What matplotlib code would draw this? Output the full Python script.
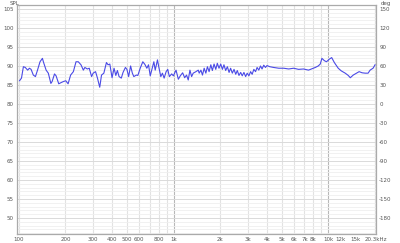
import matplotlib
matplotlib.use("Agg")
import matplotlib.pyplot as plt
from matplotlib.ticker import FixedLocator, NullFormatter

plt.rcParams["axes.unicode_minus"] = False

# Frequency response
freq = [101, 104, 107, 110, 114, 117, 120, 124, 128, 132, 137, 142, 144, 150, 155, 161, 164, 170, 174, 181,
        187, 194, 201, 208, 216, 225, 234, 242, 252, 261, 267, 277, 285, 295, 302, 313, 322, 333, 342, 354,
        368, 377, 387, 400, 412, 423, 433, 444, 459, 471, 488, 499, 512, 527, 541, 553, 574, 587, 608, 632,
        652, 671, 688, 706, 727, 745, 760, 786, 801, 826, 846, 868, 894, 916, 938, 971, 996, 1036, 1072, 1104,
        1143, 1178, 1211, 1242, 1274, 1306, 1337, 1393, 1442, 1462, 1500, 1535, 1574, 1614, 1652, 1694, 1738,
        1778, 1824, 1871, 1914, 1963, 2014, 2065, 2113, 2168, 2223, 2280, 2333, 2393, 2455, 2518, 2576, 2642,
        2710, 2773, 2844, 2917, 2985, 3062, 3141, 3214, 3296, 3381, 3459, 3548, 3639, 3724, 3819, 3917, 4009,
        4178, 4426, 4775, 5140, 5534, 5957, 6412, 6902, 7430, 7762, 8222, 8590, 8851, 9070, 9397, 9705, 10140,
        10490, 10910, 11560, 12100, 12830, 13420, 13840, 14450, 14890, 15780, 16490, 17260, 18030, 18580,
        19410, 20000]
spl = [86.1, 86.8, 89.8, 89.6, 88.9, 89.4, 89.1, 87.6, 87.2, 88.9, 91.1, 92.0, 91.1, 88.9, 88.1, 85.4, 85.9,
       87.9, 87.4, 85.3, 85.6, 85.9, 86.1, 85.3, 87.6, 88.5, 91.1, 91.1, 90.3, 88.9, 89.6, 89.2, 89.4, 87.2,
       88.1, 88.5, 86.8, 84.4, 87.6, 88.1, 90.9, 90.3, 90.5, 86.9, 89.4, 87.5, 88.8, 87.2, 86.8, 88.3, 89.6,
       89.1, 87.2, 90.0, 88.1, 87.2, 87.6, 87.5, 89.4, 91.1, 90.4, 89.4, 90.3, 87.4, 89.4, 91.1, 88.9, 91.6,
       89.8, 87.2, 88.1, 86.8, 88.5, 89.1, 87.2, 87.9, 87.4, 88.9, 86.5, 87.4, 88.2, 86.9, 87.6, 86.3, 88.9,
       87.2, 88.1, 88.5, 88.9, 88.1, 88.9, 87.6, 89.4, 88.1, 89.8, 88.5, 90.3, 88.8, 90.5, 89.1, 90.7, 89.4,
       90.5, 89.1, 90.3, 88.8, 89.8, 88.3, 89.4, 88.1, 89.1, 87.8, 88.8, 87.5, 88.3, 87.4, 88.3, 87.2, 88.1,
       87.4, 88.5, 87.8, 89.1, 88.5, 89.6, 88.9, 90.0, 89.2, 90.2, 89.6, 90.1, 89.8, 89.6, 89.4, 89.4, 89.2,
       89.4, 89.1, 89.2, 88.9, 89.2, 89.6, 90.0, 90.5, 92.0, 91.4, 91.1, 91.8, 92.2, 90.9, 89.4, 88.7, 88.1,
       87.5, 86.9, 87.6, 87.9, 88.5, 88.2, 88.1, 88.1, 88.9, 89.4, 90.3]

xticks = [100, 200, 300, 400, 500, 600, 800, 1000, 2000, 3000, 4000, 5000, 6000, 7000, 8000, 10000,
          12000, 15000, 20300]
xlabels = ["100", "200", "300", "400", "500", "600", "800", "1k", "2k", "3k", "4k", "5k", "6k", "7k",
           "8k", "10k", "12k", "15k", "20.3kHz"]
spl_ticks = [50, 55, 60, 65, 70, 75, 80, 85, 90, 95, 100, 105]
deg_ticks = [-180, -150, -120, -90, -60, -30, 0, 30, 60, 90, 120, 150]

fig = plt.figure(figsize=(4, 2.43), dpi=100)
ax = fig.add_axes([0.042, 0.037, 0.899, 0.942])

ylo, yhi = 45.8, 106.0
ax.set_xscale("log")
ax.set_xlim(97, 20400)
ax.set_ylim(ylo, yhi)

# grid
grid_freqs = [f * m for m in (100, 1000, 10000) for f in range(1, 10)] + [20000]
for f in grid_freqs:
    if f in (1000, 10000):
        ax.axvline(f, color="#b8b8b8", lw=0.8, zorder=0)
    else:
        ax.axvline(f, color="#e2e2e2", lw=0.8, zorder=0)
for v in range(46, 106):
    if v % 5 == 0:
        ax.axhline(v, color="#dadada", lw=0.7, zorder=0)
    else:
        ax.axhline(v, color="#efefef", lw=0.6, zorder=0)

ax.plot(freq, spl, color="#4a4ae6", lw=0.8)

ax.xaxis.set_major_locator(FixedLocator(xticks))
ax.xaxis.set_minor_formatter(NullFormatter())
ax.xaxis.set_minor_locator(FixedLocator([]))
ax.set_xticklabels(xlabels)
for lab, t in zip(ax.get_xticklabels(), xticks):
    lab.set_color("#b0b0b0" if t in (12000, 15000) else "#555555")
ax.set_yticks(spl_ticks)
ax.tick_params(axis="both", length=0, labelsize=4, labelcolor="#555555", pad=2)
ax.tick_params(axis="x", pad=2.5)

for s in ax.spines.values():
    s.set_color("#aaaaaa")
    s.set_linewidth(0.9)

ax2 = ax.twinx()
ax2.set_ylim((ylo - 90) * 6 + 60, (yhi - 90) * 6 + 60)
ax2.set_yticks(deg_ticks)
ax2.tick_params(axis="y", length=0, labelsize=4, labelcolor="#555555", pad=2)
for s in ax2.spines.values():
    s.set_visible(False)

fig.text(0.025, 0.995, "SPL", fontsize=4, color="#555555", va="top", ha="left")
fig.text(0.953, 0.995, "deg", fontsize=4, color="#555555", va="top", ha="left")

fig.savefig("out.png", dpi=100)
